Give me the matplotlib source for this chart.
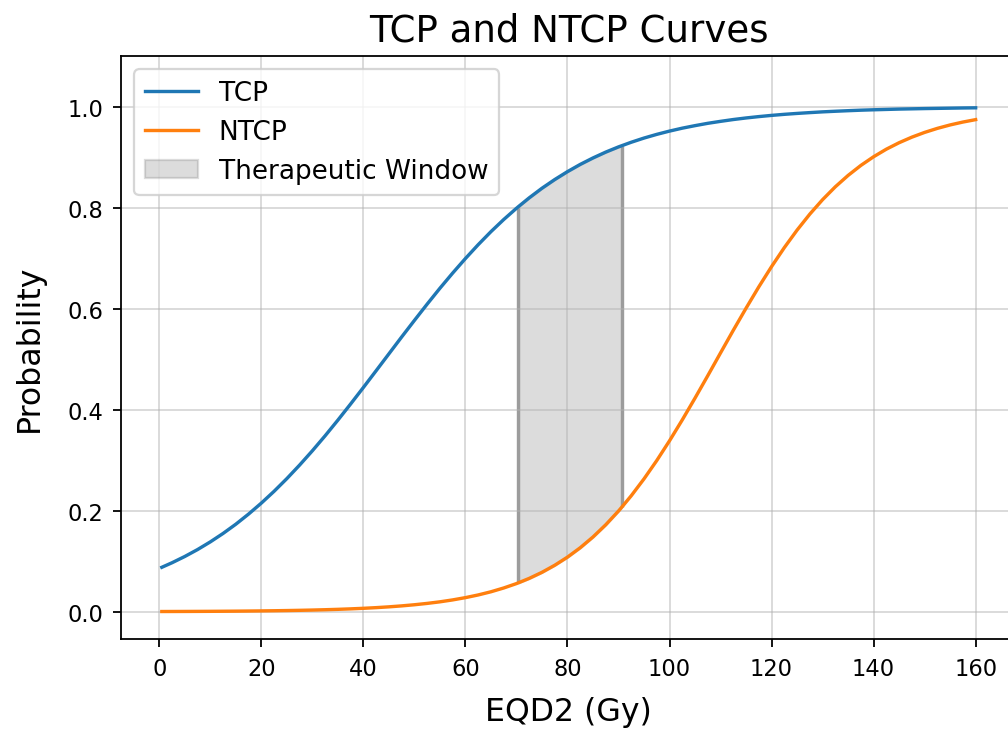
import numpy as np
import matplotlib
matplotlib.use("Agg")
import matplotlib.pyplot as plt

# Dose grid (EQD2, Gy) and the probability readings at each dose
dose = [0.5, 2.5, 5, 7.5, 10, 12.5, 15, 17.5, 20, 22.5, 25, 27.5, 30, 32.5,
        35, 37.5, 40, 42.5, 45, 47.5, 50, 52.5, 55, 57.5, 60, 62.5, 65, 67.5,
        70, 70.4, 72.5, 75, 77.5, 80, 82.5, 85, 87.5, 90, 90.6, 92.5, 95,
        97.5, 100, 102.5, 105, 107.5, 110, 112.5, 115, 117.5, 120, 122.5,
        125, 127.5, 130, 132.5, 135, 137.5, 140, 142.5, 145, 147.5, 150,
        152.5, 155, 157.5, 160]

tcp = [0.0880, 0.0970, 0.1094, 0.1231, 0.1383, 0.1550, 0.1733, 0.1934,
       0.2151, 0.2385, 0.2636, 0.2904, 0.3187, 0.3484, 0.3794, 0.4114,
       0.4441, 0.4773, 0.5107, 0.5441, 0.5769, 0.6092, 0.6406, 0.6707,
       0.6995, 0.7269, 0.7527, 0.7767, 0.7990, 0.8024, 0.8197, 0.8387,
       0.8559, 0.8716, 0.8859, 0.8987, 0.9103, 0.9206, 0.9228, 0.9298,
       0.9381, 0.9454, 0.9519, 0.9577, 0.9627, 0.9673, 0.9712, 0.9748,
       0.9779, 0.9806, 0.9830, 0.9851, 0.9869, 0.9885, 0.9900, 0.9912,
       0.9923, 0.9933, 0.9941, 0.9948, 0.9955, 0.9960, 0.9965, 0.9969,
       0.9973, 0.9977, 0.9980]

ntcp = [0.0004, 0.00046, 0.00055, 0.00066, 0.00078, 0.00094, 0.00112,
        0.00135, 0.00161, 0.00193, 0.00231, 0.00276, 0.00330, 0.00395,
        0.00473, 0.00565, 0.00676, 0.00808, 0.00966, 0.01155, 0.0138,
        0.01647, 0.0196, 0.0234, 0.0279, 0.0332, 0.0395, 0.0470, 0.0557,
        0.0573, 0.0660, 0.0780, 0.0920, 0.1081, 0.1267, 0.1480, 0.1722,
        0.1994, 0.2065, 0.2297, 0.2631, 0.2994, 0.3385, 0.3799, 0.4231,
        0.4675, 0.5126, 0.5574, 0.6011, 0.6434, 0.6835, 0.7211, 0.7558,
        0.7875, 0.8161, 0.8416, 0.8641, 0.8839, 0.9011, 0.9161, 0.9289,
        0.9399, 0.9493, 0.9573, 0.9641, 0.9698, 0.9746]

# Therapeutic window: TCP >= 0.8 and NTCP <= 0.2
window_start = 70.4
window_end = 90.6

dose_arr = np.array(dose)
tcp_arr = np.array(tcp)
ntcp_arr = np.array(ntcp)
in_window = (dose_arr >= window_start) & (dose_arr <= window_end)
edges = (dose_arr == window_start) | (dose_arr == window_end)

fig = plt.figure(figsize=(1008 / 162, 732 / 162), dpi=162)
ax = fig.add_axes([0.1203, 0.1257, 0.888, 0.796])

ax.plot(dose, tcp, color="#1f77b4", lw=1.5, label="TCP")
ax.plot(dose, ntcp, color="#ff7f0e", lw=1.5, label="NTCP")
ax.fill_between(dose, ntcp, tcp, where=in_window, color="gray", alpha=0.27,
                label="Therapeutic Window")
ax.vlines(dose_arr[edges], ntcp_arr[edges], tcp_arr[edges],
          colors="#9c9c9c", lw=1.5, zorder=1.5)

ax.set_xlim(-7.45, 167.98)
ax.set_ylim(-0.054, 1.1)
ax.set_xticks([0, 20, 40, 60, 80, 100, 120, 140, 160])
ax.set_yticks([0.0, 0.2, 0.4, 0.6, 0.8, 1.0])
ax.tick_params(labelsize=10, pad=4.5)

ax.set_xlabel("EQD2 (Gy)", fontsize=14, labelpad=7)
ax.set_ylabel("Probability", fontsize=14, labelpad=10)
ax.set_title("TCP and NTCP Curves", fontsize=16.5, pad=7)
ax.grid(True, alpha=0.5)
ax.legend(loc="upper left", fontsize=11.7)

fig.savefig("out.png", dpi=162)
